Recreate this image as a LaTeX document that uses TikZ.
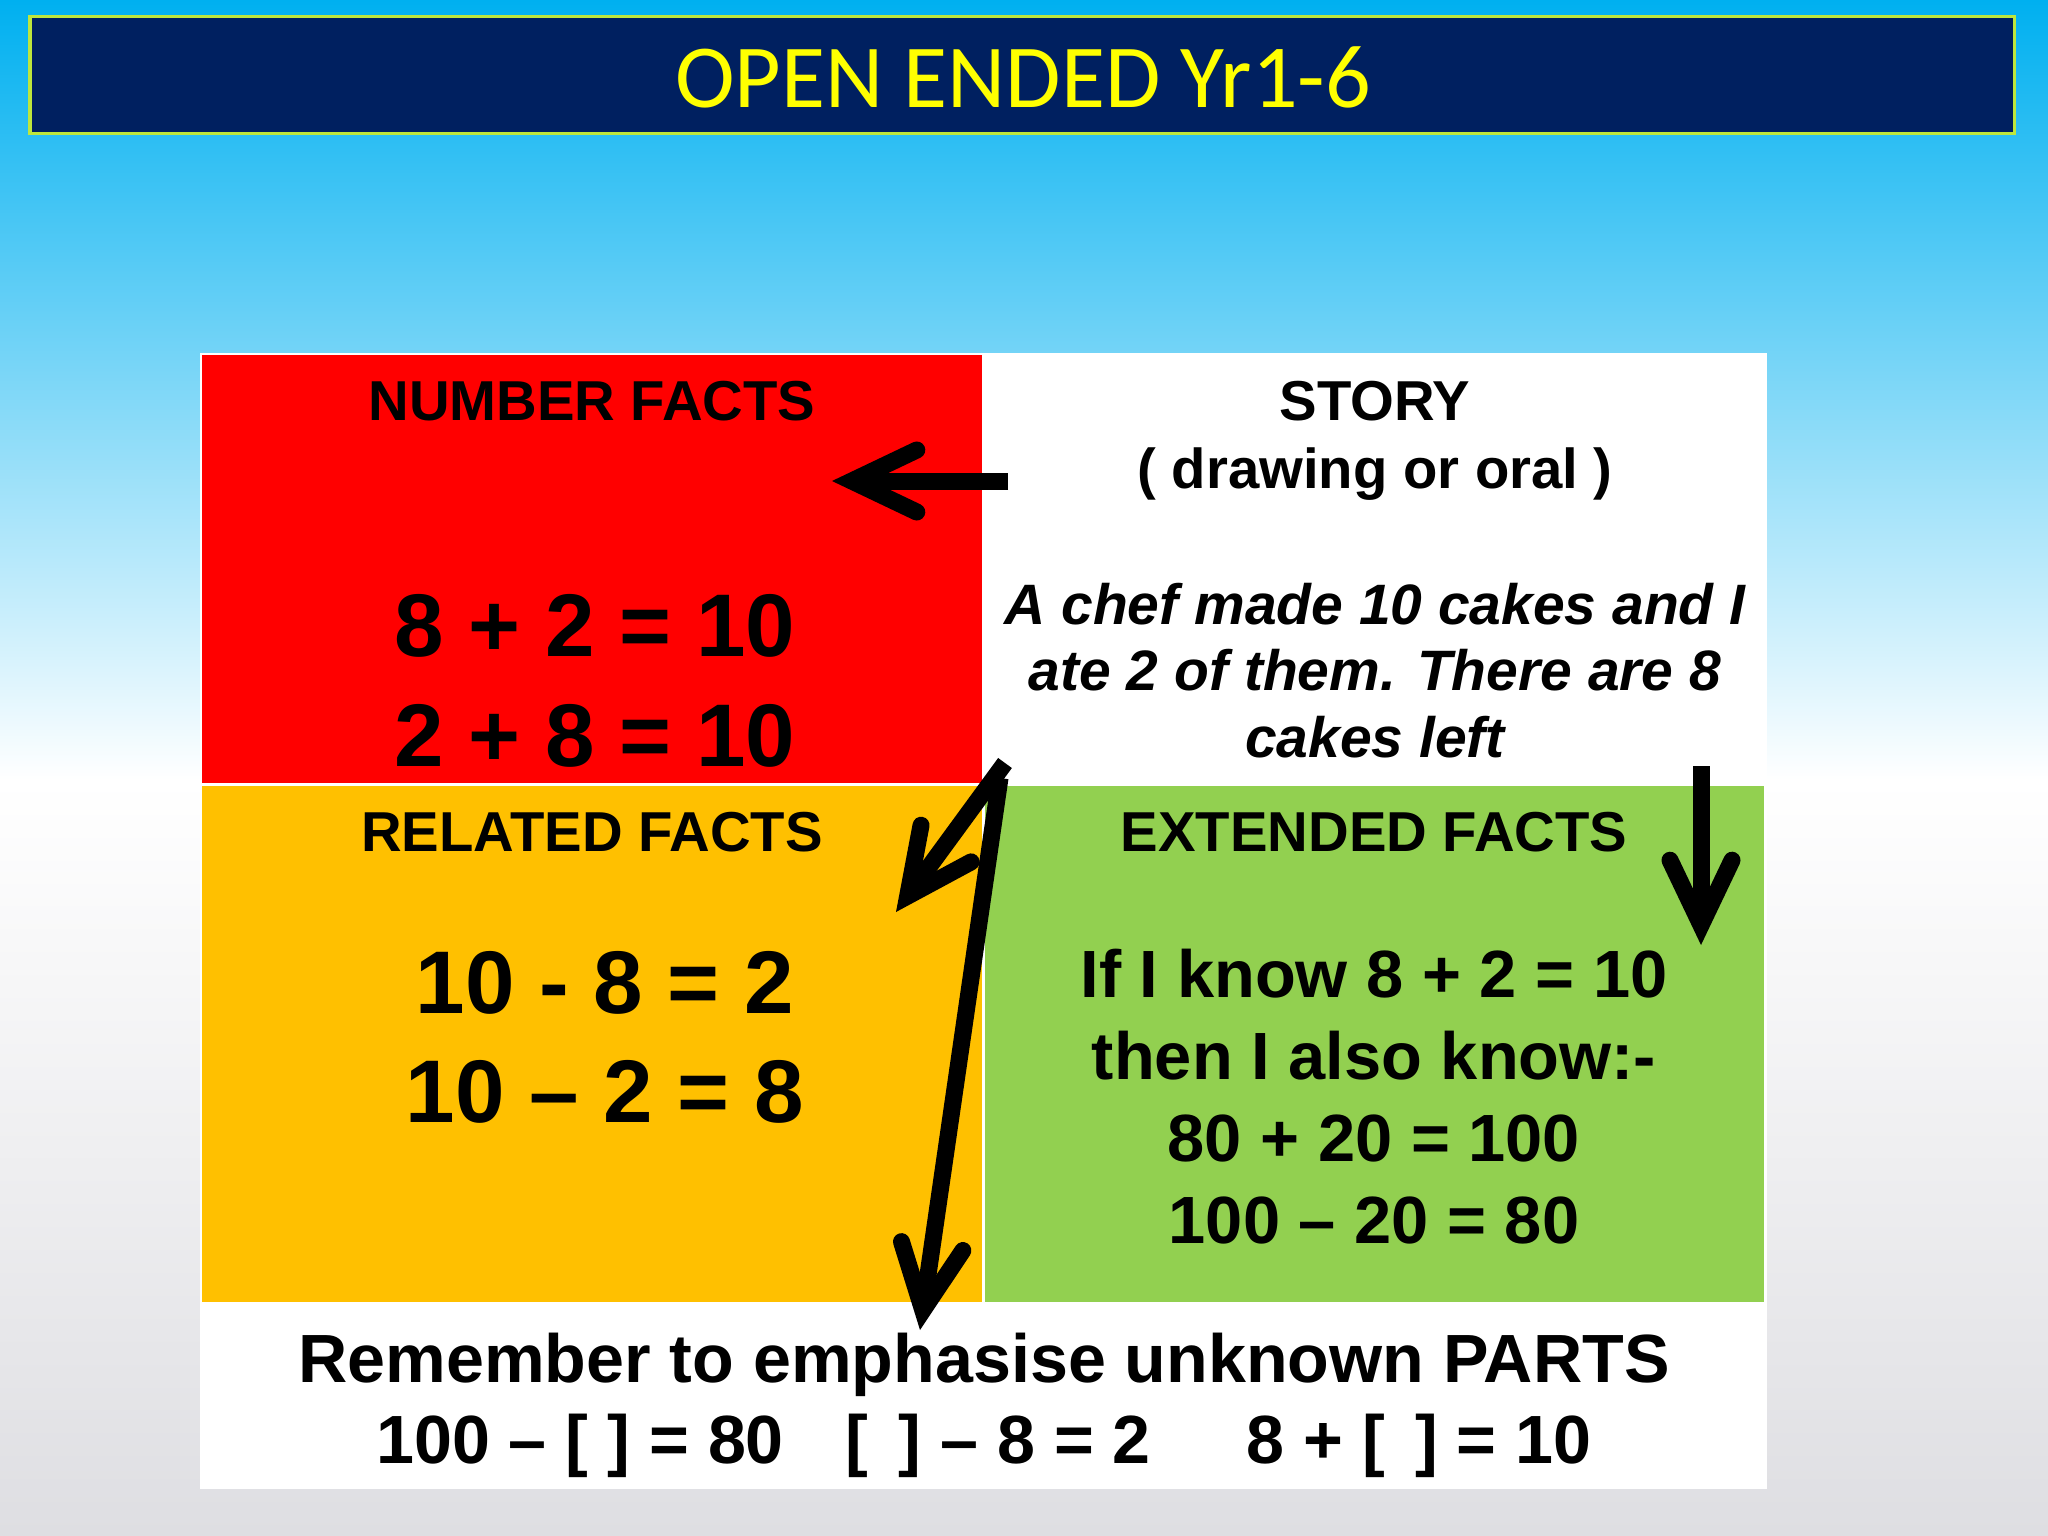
\documentclass[tikz,border=0pt]{standalone}
\usepackage{fontspec}
\setmainfont{Liberation Sans}
\newfontfamily\titlefont{Carlito}
\usetikzlibrary{arrows.meta}
\definecolor{skyblue}{RGB}{0,176,240}
\definecolor{slidegray}{RGB}{222,222,226}
\definecolor{navy}{RGB}{0,32,96}
\definecolor{titleyellow}{RGB}{255,255,0}
\definecolor{barline}{RGB}{190,230,60}
\definecolor{factred}{RGB}{255,0,0}
\definecolor{factorange}{RGB}{255,192,0}
\definecolor{factgreen}{RGB}{146,208,80}
\begin{document}
\begin{tikzpicture}[x=0.01cm,y=-0.01cm,
        head/.style={anchor=base,align=center,font=\bfseries\fontsize{16pt}{19.3pt}\selectfont},
        bigeq/.style={anchor=base,align=center,font=\bfseries\fontsize{25.3pt}{31pt}\selectfont},
        fact/.style={anchor=base,align=center,font=\bfseries\fontsize{19pt}{23.3pt}\selectfont},
        bigarrow/.style={line width=0.17cm,-{Straight Barb[length=0.65cm,width=0.62cm,line cap=round]}}]
        \useasboundingbox (0,0) rectangle (2048,1536);
        \shade[top color=skyblue,bottom color=white] (0,0) rectangle (2048,780);
        \shade[top color=white,bottom color=slidegray] (0,780) rectangle (2048,1536);
        \filldraw[fill=navy,draw=barline,line width=0.03cm] (30,16) rectangle (2014,133);
        \node[anchor=base,text=titleyellow,font=\titlefont\fontsize{25.6pt}{26pt}\selectfont] (title) at (1023,107) {OPEN ENDED Yr1-6};
        \fill[white] (200,353) rectangle (1767,1489);
        \fill[factred] (202,355) rectangle (982,783);
        \fill[factorange] (202,786) rectangle (982,1302);
        \fill[factgreen] (985,786) rectangle (1764,1302);
        \node[head] (numhead) at (592,420) {NUMBER FACTS};
        \node[bigeq] (numeq) at (595,766) {8 + 2 = 10\\2 + 8 = 10};
        \node[head] (storyhead) at (1375,488) {STORY\\( drawing or oral )};
        \node[anchor=base,align=center,font=\bfseries\itshape\fontsize{16.2pt}{18.8pt}\selectfont] (storytext) at (1375,757)
            {A chef made 10 cakes and I\\ate 2 of them. There are 8\\cakes left};
        \node[head] (relhead) at (592,851) {RELATED FACTS};
        \node[bigeq] (releq) at (605,1122) {10 - 8 = 2\\10 – 2 = 8};
        \node[head] (exthead) at (1374,851) {EXTENDED FACTS};
        \node[fact] (exttext) at (1374,1243) {If I know 8 + 2 = 10\\then I also know:-\\80 + 20 = 100\\100 – 20 = 80};
        \node[fact,font=\bfseries\fontsize{19.4pt}{23pt}\selectfont] (remind) at (984,1463) {Remember to emphasise unknown PARTS\\
            100 – [ ] = 80\hspace{0.62cm}[\hspace{0.3cm}] – 8 = 2\hspace{0.96cm}8 + [\hspace{0.3cm}] = 10};
        \coordinate (s1) at (1008,481);
        \coordinate (s2) at (1005,763);
        \coordinate (s3) at (1000,778);
        \coordinate (s4) at (1701,766);
        \coordinate (t1) at (832,481);
        \coordinate (t2) at (896,912);
        \coordinate (t3) at (920,1330);
        \coordinate (t4) at (1701,945);
        \draw[bigarrow] (s1) -- (t1);
        \draw[bigarrow] (s2) -- (t2);
        \draw[bigarrow] (s3) -- (t3);
        \draw[bigarrow] (s4) -- (t4);
    \end{tikzpicture}
\end{document}
